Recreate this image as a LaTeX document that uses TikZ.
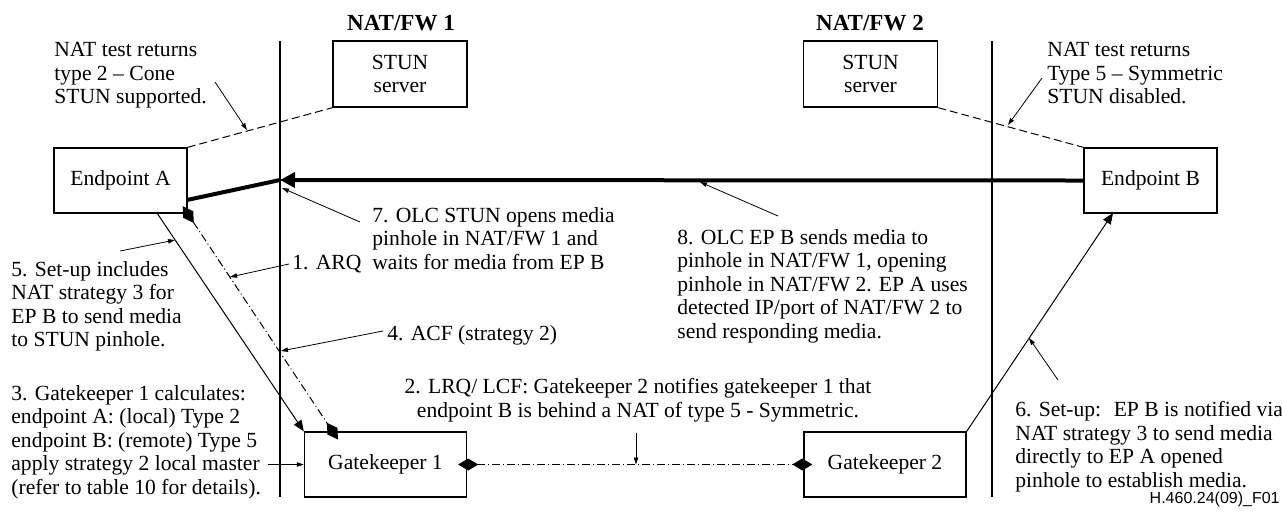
\documentclass[tikz,border=0pt]{standalone}
\usepackage{fontspec}
\setmainfont{Liberation Serif}
\newfontfamily\figidfont{Liberation Sans}
\usetikzlibrary{arrows.meta,positioning}

\begin{document}
\begin{tikzpicture}[x=0.5pt, y=-0.5pt, >=Stealth,
  font=\fontsize{10.8}{11.75}\selectfont,
  box/.style={draw, line width=0.7pt, fill=white, align=center, inner sep=0pt},
  epbox/.style={box, minimum width=66.5pt, minimum height=32.5pt},
  stunbox/.style={box, minimum width=67pt, minimum height=33pt},
  gkbox/.style={box, minimum width=81pt, minimum height=32.5pt},
  fwtitle/.style={font=\fontsize{11.5}{12}\selectfont\bfseries},
  note/.style={align=left, anchor=north west, inner sep=0pt},
  fwline/.style={line width=0.6pt},
  pointer/.style={line width=0.4pt, -{Triangle[length=3.5pt, width=2.2pt]}},
  setup/.style={line width=0.5pt, -{Triangle[length=5.5pt, width=4.5pt]}},
  media/.style={line width=2pt},
  probe/.style={line width=0.5pt, dash pattern=on 4pt off 2pt},
  ras/.style={line width=0.5pt, dash pattern=on 4pt off 1.5pt on 0.5pt off 1.5pt,
    {Diamond[length=10pt, width=6pt]}-{Diamond[length=10pt, width=6pt]},
    shorten <=-4.5pt, shorten >=-4.5pt}]
\useasboundingbox (0,0) rectangle (1282,511);

% firewalls
\node[fwtitle] (fw1name) at (401,23) {NAT/FW 1};
\node[fwtitle] (fw2name) at (870,23) {NAT/FW 2};
\coordinate (fw1top) at (280,41);
\coordinate (fw1bot) at (280,497);
\coordinate (fw2top) at (992,41);
\coordinate (fw2bot) at (992,497);
\draw[fwline] (fw1top) -- (fw1bot);
\draw[fwline] (fw2top) -- (fw2bot);

% boxes
\node[stunbox] (stun1) at (400,74) {STUN\\server};
\node[stunbox] (stun2) at (870.5,74) {STUN\\server};
\node[epbox] (epA) at (120.5,180.5) {Endpoint A};
\node[epbox] (epB) at (1150.5,180.5) {Endpoint B};
\node[gkbox] (gk1) at (385.5,464.5) {Gatekeeper 1};
\node[gkbox] (gk2) at (885,464.5) {Gatekeeper 2};

% media through the pinhole
\coordinate (pin1) at (280,180);
\coordinate (mediaA) at (187,200);
\draw[media, -{Triangle[length=7.5pt, width=7.5pt]}] (epB.west) -- (pin1);
\draw[media] (mediaA) -- (pin1);

% NAT tests
\draw[probe] (epA.north east) -- (stun1.south west);
\draw[probe] (stun2.south east) -- (epB.north west);

% call set-up
\coordinate (epAfoot) at (157,213);
\coordinate (epBfoot) at (1113,213);
\coordinate (gk1top) at (333,432);
\draw[setup] (epAfoot) -- (gk1.north west);
\draw[setup] (gk2.north east) -- (epBfoot);
\draw[ras] (epA.south east) -- (gk1top);
\draw[ras] (gk1.east) -- (gk2.west);

% notes
\node[note] (natA) at (54,42) {NAT test returns\\type 2 -- Cone\\STUN supported.};
\node[note] (natB) at (1047,42) {NAT test returns\\Type 5 -- Symmetric\\STUN disabled.};
\node[note] (olc7) at (372,207) {7. OLC STUN opens media\\pinhole in NAT/FW 1 and\\waits for media from EP B};
\node[note] (olc8) at (677,229) {8. OLC EP B sends media to\\pinhole in NAT/FW 1, opening\\pinhole in NAT/FW 2. EP A uses\\detected IP/port of NAT/FW 2 to\\send responding media.};
\node[note] (arq) at (292,255) {1. ARQ};
\node[note] (acf) at (387,325) {4. ACF (strategy 2)};
\node[note] (setupA) at (11,261) {5. Set-up includes\\NAT strategy 3 for\\EP B to send media\\to STUN pinhole.};
\node[note] (gkcalc) at (11,385) {3. Gatekeeper 1 calculates:\\endpoint A: (local) Type 2\\endpoint B: (remote) Type 5\\apply strategy 2 local master\\(refer to table 10 for details).};
\node[note, align=center, anchor=north] (lrq) at (638,378) {2. LRQ/ LCF: Gatekeeper 2 notifies gatekeeper 1 that\\endpoint B is behind a NAT of type 5 - Symmetric.};
\node[note] (setupB) at (1015,401) {6. Set-up:~ EP B is notified via\\NAT strategy 3 to send media\\directly to EP A opened\\pinhole to establish media.};
\node[anchor=east, inner sep=0pt, font=\figidfont\fontsize{8}{9}\selectfont] (figid) at (1280,499) {H.460.24(09)\_F01};

% pointers from the notes
\coordinate (natAfrom) at (215,82);   \coordinate (natAto) at (247,130);
\coordinate (natBfrom) at (1042,78);  \coordinate (natBto) at (1008,125);
\coordinate (olc7from) at (360,222);  \coordinate (olc7to) at (282,188);
\coordinate (olc8from) at (778,216);  \coordinate (olc8to) at (700,182);
\coordinate (arqfrom) at (289,264);   \coordinate (arqto) at (230,277);
\coordinate (acffrom) at (383,331);   \coordinate (acfto) at (281,351);
\coordinate (setupAfrom) at (120,251); \coordinate (setupAto) at (175,240);
\coordinate (gkcalcfrom) at (268,464.5);
\coordinate (lrqfrom) at (636,433);   \coordinate (lrqto) at (636,464.5);
\coordinate (setupBfrom) at (1058,380); \coordinate (setupBto) at (1029,338);
\draw[pointer] (natAfrom) -- (natAto);
\draw[pointer] (natBfrom) -- (natBto);
\draw[pointer] (olc7from) -- (olc7to);
\draw[pointer] (olc8from) -- (olc8to);
\draw[pointer] (arqfrom) -- (arqto);
\draw[pointer] (acffrom) -- (acfto);
\draw[pointer] (setupAfrom) -- (setupAto);
\draw[pointer] (gkcalcfrom) -- (gk1.west);
\draw[pointer] (lrqfrom) -- (lrqto);
\draw[pointer] (setupBfrom) -- (setupBto);
\end{tikzpicture}
\end{document}
